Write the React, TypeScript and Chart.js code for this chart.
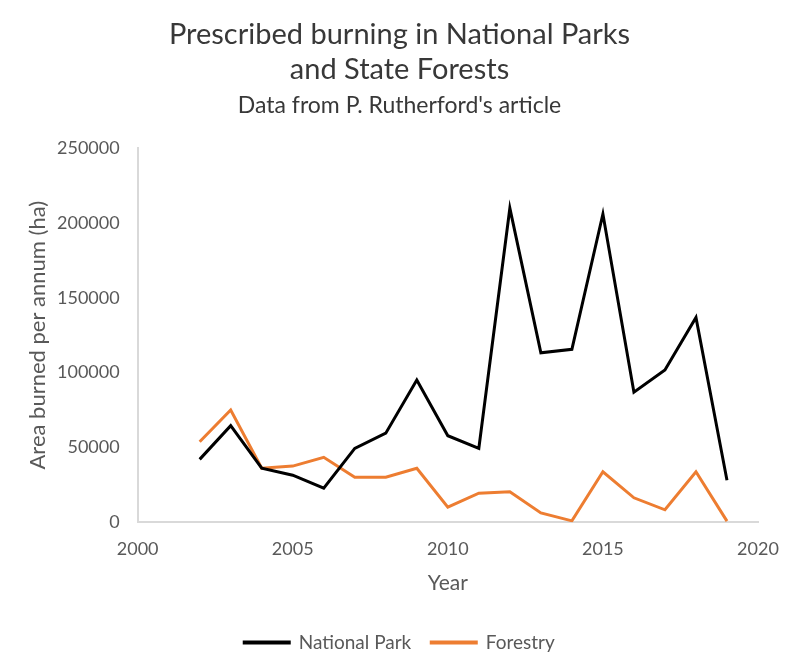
import React, { useEffect, useRef } from "react";
import { Chart, registerables } from "chart.js";

Chart.register(...registerables);

const years = [2002, 2003, 2004, 2005, 2006, 2007, 2008, 2009, 2010, 2011, 2012, 2013, 2014, 2015, 2016, 2017, 2018, 2019];
const nationalPark = [42000, 64500, 36100, 31400, 22700, 49300, 59500, 95000, 57800, 49400, 209900, 113200, 115600, 206000, 86900, 101800, 136800, 28100];
const forestry = [53800, 75000, 36100, 37500, 43400, 30100, 30100, 36100, 10000, 19400, 20400, 6200, 900, 33700, 16300, 8300, 33700, 700];
const titleLines = ["Prescribed burning in National Parks", "and State Forests"];
const subtitleText = "Data from P. Rutherford's article";
const xTitle = "Year";
const yTitle = "Area burned per annum (ha)";

const FONT = "Lato, 'Open Sans', sans-serif";

// Center full-width boxes (title, subtitle, legend) on the whole canvas
const centerBoxes = {
  id: "centerBoxes",
  afterLayout(chart: any) {
    chart.boxes.forEach((b: any) => {
      if (b.axis === undefined && (b.position === "top" || b.position === "bottom")) {
        const dx = chart.width / 2 - (b.left + b.right) / 2;
        b.left += dx;
        b.right += dx;
      }
    });
  },
};

export default function App() {
  const ref = useRef<HTMLCanvasElement>(null);
  useEffect(() => {
    if (!ref.current) return;
    const chart = new Chart(ref.current, {
      type: "line",
      data: {
        datasets: [
          {
            label: "National Park",
            data: years.map((y, i) => ({ x: y, y: nationalPark[i] })),
            borderColor: "#000000",
            backgroundColor: "#000000",
            borderWidth: 3,
            pointRadius: 0,
            tension: 0,
          },
          {
            label: "Forestry",
            data: years.map((y, i) => ({ x: y, y: forestry[i] })),
            borderColor: "#ED7D31",
            backgroundColor: "#ED7D31",
            borderWidth: 3,
            pointRadius: 0,
            tension: 0,
          },
        ],
      },
      plugins: [centerBoxes],
      options: {
        animation: false,
        responsive: false,
        maintainAspectRatio: false,
        layout: { padding: { left: 16, right: 41, top: 0, bottom: 7 } },
        plugins: {
          title: {
            display: true,
            text: titleLines,
            color: "#383838",
            font: { family: FONT, size: 29, weight: "normal", lineHeight: 1.2 },
            padding: { top: 17, bottom: 5 },
          },
          subtitle: {
            display: true,
            text: subtitleText,
            color: "#383838",
            font: { family: FONT, size: 23, weight: "normal", lineHeight: 1.2 },
            padding: { top: 0, bottom: 29 },
          },
          legend: {
            position: "bottom",
            labels: {
              boxWidth: 45,
              boxHeight: 1,
              color: "#595959",
              font: { family: FONT, size: 19 },
              padding: 20,
            },
          },
          tooltip: { enabled: false },
        },
        scales: {
          x: {
            type: "linear",
            min: 2000,
            max: 2020,
            grid: { display: false },
            border: { display: true, color: "#d9d9d9", width: 2 },
            ticks: {
              stepSize: 5,
              color: "#595959",
              font: { family: FONT, size: 18 },
              padding: 8,
              callback: (v: any) => String(v),
            },
            title: {
              display: true,
              text: xTitle,
              color: "#595959",
              font: { family: FONT, size: 21 },
              padding: { top: 3, bottom: 17 },
            },
          },
          y: {
            min: 0,
            max: 250000,
            grid: { display: false },
            border: { display: true, color: "#d9d9d9", width: 2 },
            ticks: {
              stepSize: 50000,
              color: "#595959",
              font: { family: FONT, size: 18 },
              padding: 10,
              callback: (v: any) => String(v),
            },
            title: {
              display: true,
              text: yTitle,
              color: "#595959",
              font: { family: FONT, size: 22, lineHeight: 1.0 },
              padding: { top: 11, bottom: -2 },
            },
          },
        },
      },
    });
    return () => chart.destroy();
  }, []);
  return (
    <div style={{ position: "absolute", left: 0, top: 0, width: 799, height: 669, background: "#fff" }}>
      <canvas ref={ref} width={799} height={669} style={{ width: 799, height: 669 }} />
    </div>
  );
}
